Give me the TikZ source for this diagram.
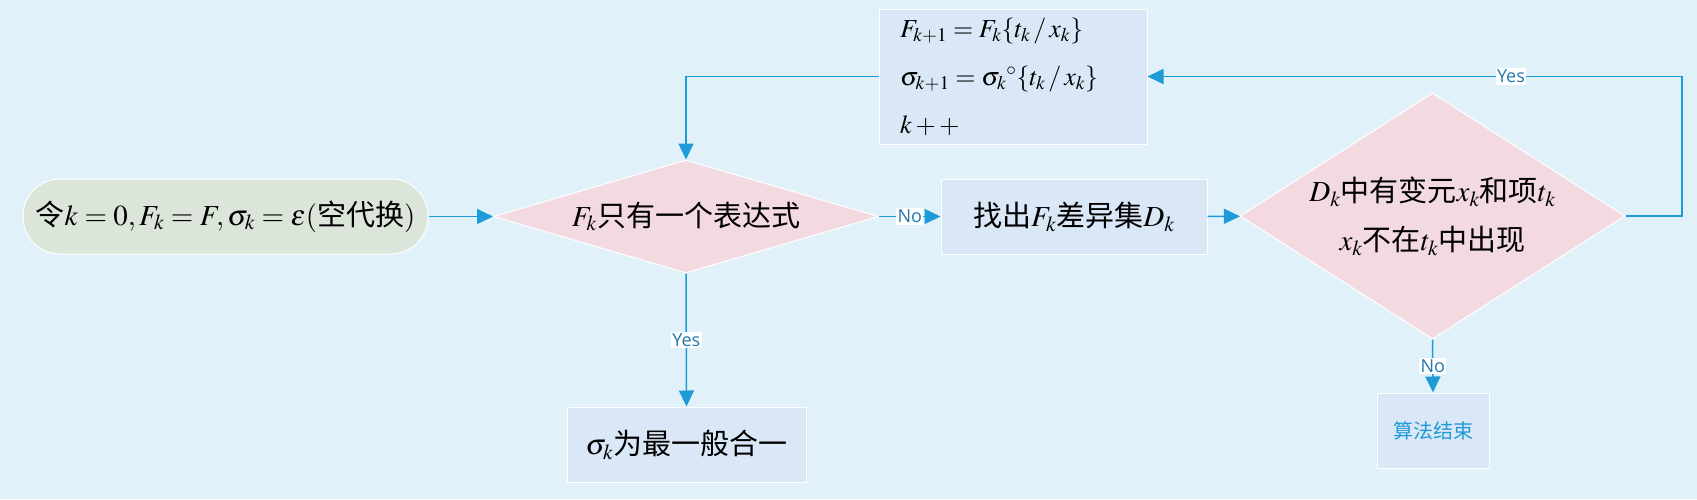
\documentclass[tikz,border=0pt]{standalone}
\usepackage{mathptmx}
\usepackage[no-math]{fontspec}
\setmainfont{Noto Sans CJK SC}
\newfontfamily\lblfont{Open Sans}
\usetikzlibrary{shapes.geometric,arrows.meta}
\definecolor{bgblue}{RGB}{224,241,250}
\definecolor{lineblue}{RGB}{30,154,214}
\definecolor{lbltext}{RGB}{35,120,175}
\definecolor{startfill}{RGB}{220,229,218}
\definecolor{decfill}{RGB}{243,218,224}
\definecolor{boxfill}{RGB}{218,231,246}
\begin{document}
\begin{tikzpicture}[x=1pt,y=-1pt,
  startbox/.style={rectangle, rounded corners=37pt, draw=white, line width=1pt, fill=startfill, minimum width=405pt, minimum height=75pt, inner sep=0pt, font=\fontsize{29}{34}\selectfont},
  decbox/.style={diamond, draw=white, line width=1pt, fill=decfill, inner sep=0pt, align=center, font=\fontsize{29}{49}\selectfont},
  procbox/.style={rectangle, draw=white, line width=1pt, fill=boxfill, inner sep=0pt, font=\fontsize{29}{34}\selectfont},
  flow/.style={draw=lineblue, line width=1.5pt, -{Triangle[length=16pt,width=15pt]}},
  lbl/.style={fill=white, text=lbltext, inner sep=1.5pt, font=\lblfont\fontsize{18}{21}\selectfont}
]
\fill[bgblue] (0,0) rectangle (1697,499);
\useasboundingbox (0,0) rectangle (1697,499);

\node[startbox] (start) at (225.5,216.5) {令$k=0, F_k=F, \sigma_k=\varepsilon($空代换$)$};
\node[decbox, shape aspect=3.4, minimum width=385pt, minimum height=113pt] (dec1) at (686,216.5) {$F_k$只有一个表达式};
\node[procbox, minimum width=266pt, minimum height=75pt] (diff) at (1074,216.5) {找出$F_k$差异集$D_k$};
\node[decbox, shape aspect=1.56, minimum width=385pt, minimum height=246pt] (dec2) at (1432.5,216) {$D_k$中有变元$x_k$和项$t_k$\\$x_k$不在$t_k$中出现};
\node[procbox, minimum width=268pt, minimum height=135pt, text width=226pt, align=left, font=\fontsize{26}{48}\selectfont] (upd) at (1013,76.5) {$F_{k+1}=F_k\{t_k\,/\,x_k\}$\\$\sigma_{k+1}=\sigma_k{}^{\circ}\{t_k\,/\,x_k\}$\\$k+{+}$};
\node[procbox, minimum width=239pt, minimum height=75pt] (mgu) at (686.5,444.5) {$\sigma_k$为最一般合一};
\node[procbox, minimum width=112pt, minimum height=75pt, text=lineblue, font=\fontsize{20}{24}\selectfont] (stop) at (1433,430.5) {算法结束};
\coordinate (loopR) at (1682,216);

\draw[flow] (start) -- (dec1);
\draw[flow] (dec1) -- node[lbl] {No} (diff);
\draw[flow] (diff) -- (dec2);
\draw[flow] (dec2.east) -- (loopR) |- node[lbl, pos=0.66] {Yes} (upd.east);
\draw[flow] (upd.west) -| (dec1.north);
\draw[flow] (dec1.south) -- node[lbl] {Yes} (mgu.north);
\draw[flow] (dec2.south) -- node[lbl] {No} (stop.north);

\end{tikzpicture}
\end{document}
